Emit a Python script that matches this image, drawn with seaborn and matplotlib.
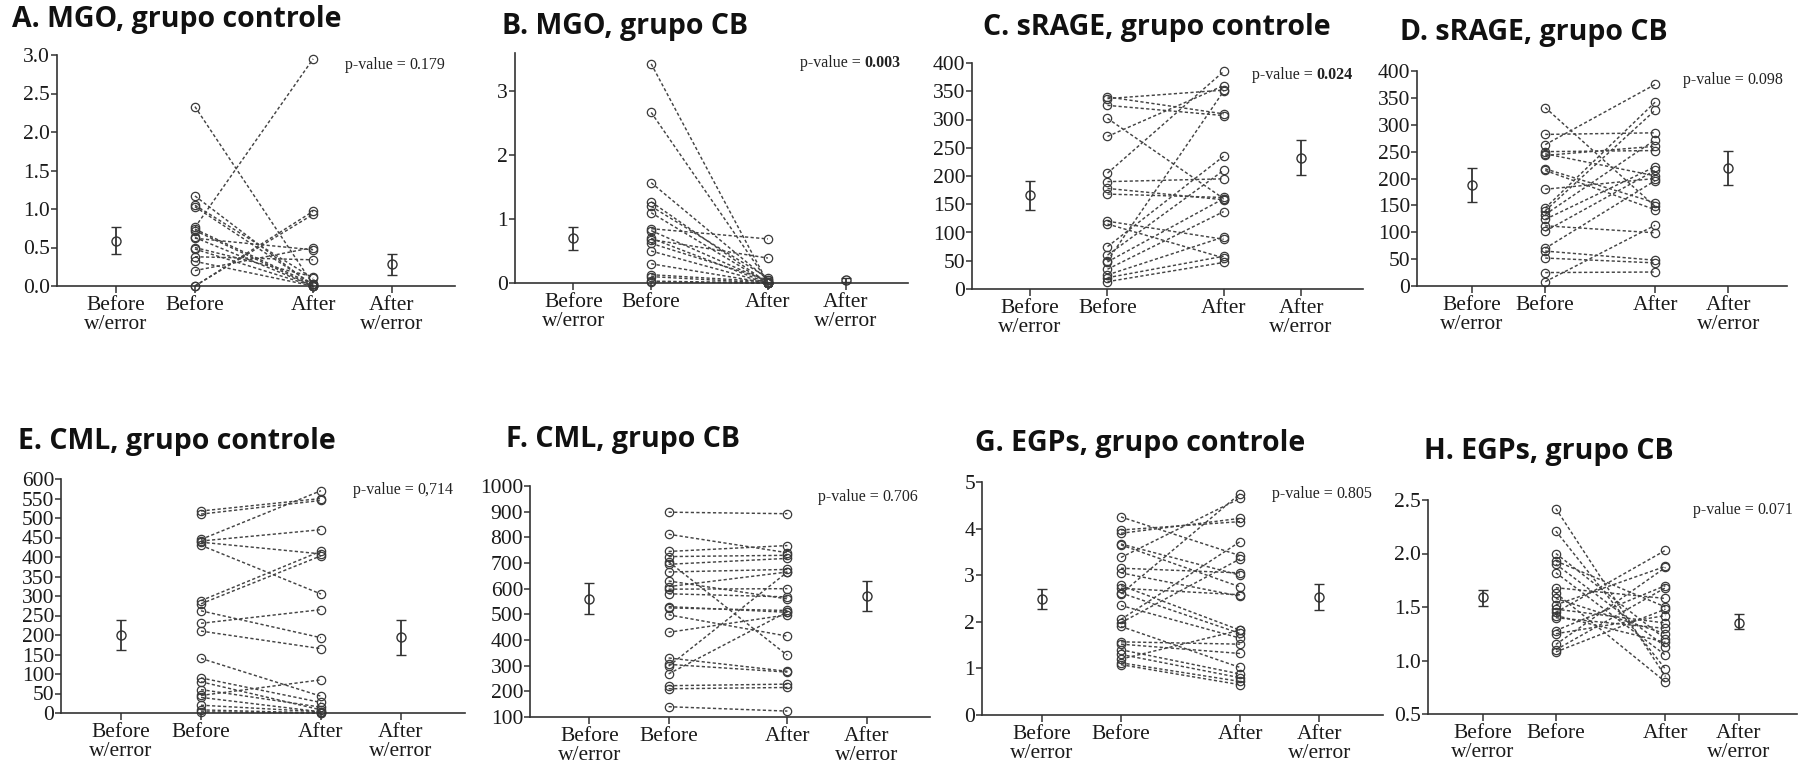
import matplotlib
matplotlib.use('Agg')
import matplotlib.pyplot as plt
from matplotlib.font_manager import FontProperties
import numpy as np
import pandas as pd
import seaborn as sns

categories = ['Before\nw/error', 'Before', 'After', 'After\nw/error']
cat_pos = [0, 1, 2.5, 3.5]

titles = ['A. MGO, grupo controle', 'B. MGO, grupo CB',
          'C. sRAGE, grupo controle', 'D. sRAGE, grupo CB',
          'E. CML, grupo controle', 'F. CML, grupo CB',
          'G. EGPs, grupo controle', 'H. EGPs, grupo CB']
p_values = ['0.179', '0.003', '0.024', '0.098', '0,714', '0.706', '0.805', '0.071']
p_bold = [False, True, True, False, False, False, False, False]

# paired subject values
before_A = [2.33, 1.17, 1.05, 1.03, 0.76, 0.74, 0.72, 0.63, 0.62, 0.50, 0.48, 0.38, 0.32, 0.20, 0.00, 0.00]
after_A = [0.02, 0.00, 0.10, 0.02, 2.95, 0.02, 0.00, 0.00, 0.47, 0.12, 0.00, 0.34, 0.00, 0.50, 0.97, 0.93]

before_B = [3.43, 2.67, 1.57, 1.27, 1.20, 1.10, 0.85, 0.82, 0.70, 0.68, 0.62, 0.50, 0.30, 0.13, 0.10, 0.03, 0.02]
after_B = [0.00, 0.02, 0.05, 0.00, 0.08, 0.00, 0.69, 0.02, 0.00, 0.39, 0.05, 0.00, 0.00, 0.02, 0.00, 0.00, 0.00]

before_C = [340, 337, 325, 302, 270, 205, 190, 178, 168, 120, 115, 75, 60, 50, 48, 35, 25, 20, 13]
after_C = [310, 352, 307, 160, 360, 385, 195, 158, 162, 88, 55, 235, 210, 350, 160, 137, 92, 58, 47]

before_D = [332, 282, 263, 250, 246, 243, 218, 215, 180, 145, 140, 133, 124, 112, 102, 70, 65, 52, 25, 8]
after_D = [148, 285, 375, 252, 205, 260, 155, 142, 200, 342, 327, 272, 222, 99, 215, 196, 48, 43, 26, 113]

before_E = [518, 510, 445, 441, 438, 430, 288, 280, 262, 230, 210, 140, 90, 80, 60, 45, 40, 20, 8, 3]
after_E = [550, 545, 570, 470, 408, 305, 415, 403, 193, 265, 165, 43, 27, 8, 15, 85, 3, 3, 0, 0]

before_F = [898, 812, 745, 725, 705, 695, 665, 630, 608, 598, 580, 530, 525, 498, 430, 330, 305, 298, 268, 222, 210, 140]
after_F = [892, 740, 768, 730, 340, 718, 675, 560, 665, 600, 568, 508, 515, 415, 498, 278, 275, 665, 510, 228, 215, 123]

before_G = [4.25, 3.97, 3.90, 3.67, 3.65, 3.38, 3.15, 3.05, 2.78, 2.72, 2.62, 2.60, 2.35, 2.05, 1.98, 1.90, 1.57, 1.52, 1.40, 1.30, 1.20, 1.12, 1.08]
after_G = [3.42, 4.15, 4.22, 3.00, 2.75, 4.65, 3.05, 2.55, 1.82, 2.58, 1.75, 4.75, 1.65, 3.72, 3.35, 1.02, 1.52, 1.32, 0.88, 0.80, 1.82, 0.72, 0.65]

before_H = [2.42, 2.21, 2.00, 1.93, 1.90, 1.82, 1.68, 1.63, 1.58, 1.52, 1.48, 1.45, 1.42, 1.40, 1.28, 1.25, 1.15, 1.10, 1.08]
after_H = [0.85, 0.92, 1.20, 1.50, 1.13, 1.05, 1.58, 0.80, 1.25, 1.88, 1.35, 2.03, 1.17, 1.30, 1.70, 1.42, 1.87, 1.68, 1.48]

# mean and error bar ends shown beside the paired points
mean_before = [0.59, 0.71, 166, 188, 201, 560, 2.50, 1.59]
low_before = [0.42, 0.51, 140, 157, 162, 500, 2.27, 1.51]
high_before = [0.77, 0.88, 191, 219, 239, 621, 2.70, 1.66]
mean_after = [0.28, 0.05, 232, 220, 195, 571, 2.54, 1.35]
low_after = [0.14, 0.01, 201, 188, 150, 513, 2.26, 1.29]
high_after = [0.41, 0.08, 263, 251, 239, 630, 2.82, 1.43]

paired = [(before_A, after_A), (before_B, after_B), (before_C, after_C), (before_D, after_D),
          (before_E, after_E), (before_F, after_F), (before_G, after_G), (before_H, after_H)]

# layout in pixels: axes box (left, top, right, bottom), title and p-value anchors
W, H = 1800, 769
boxes = [(57, 55, 455, 286), (515, 53, 908, 283), (972, 63, 1363, 289), (1417, 71, 1787, 286),
         (61, 479, 465, 713), (530, 486, 930, 717), (982, 482, 1383, 715), (1428, 500, 1797, 714)]
title_xy = [(12, 27), (502, 34), (983, 35), (1400, 40),
            (18, 449), (506, 447), (975, 451), (1424, 459)]
pval_xy = [(345, 65), (800, 63), (1252, 75), (1683, 80),
           (353, 490), (818, 497), (1272, 494), (1693, 510)]
ylims = [(0, 3.0), (0, 3.6), (0, 400), (0, 400), (0, 600), (100, 1000), (0, 5), (0.5, 2.5)]
yticks = [np.arange(0, 3.01, 0.5), [0, 1, 2, 3], np.arange(0, 401, 50), np.arange(0, 401, 50),
          np.arange(0, 601, 50), np.arange(100, 1001, 100), np.arange(0, 6, 1), np.arange(0.5, 2.51, 0.5)]
yfmt = ['{:.1f}', '{:.0f}', '{:.0f}', '{:.0f}', '{:.0f}', '{:.0f}', '{:.0f}', '{:.1f}']

sns.set_style('ticks')
plt.rcParams['font.family'] = 'serif'
plt.rcParams['font.serif'] = ['Liberation Serif', 'DejaVu Serif']
ink = '#333333'
tick_font = FontProperties(family='Liberation Serif', size=15.5)

fig = plt.figure(figsize=(W / 100, H / 100), dpi=100)

for i in range(8):
    l, t, r, b = boxes[i]
    ax = fig.add_axes([l / W, 1 - b / H, (r - l) / W, (b - t) / H])
    before, after = paired[i]
    n = len(before)
    df = pd.DataFrame({'subject': list(range(n)) * 2,
                       'pos': [cat_pos[1]] * n + [cat_pos[2]] * n,
                       'value': before + after})
    sns.lineplot(data=df, x='pos', y='value', units='subject', estimator=None,
                 color='#444444', linestyle=(0, (2.2, 1.6)), linewidth=1.05,
                 marker='o', markersize=6, markerfacecolor='none',
                 mec='#3a3a3a', mew=0.9, clip_on=False, legend=False, ax=ax)

    means = [mean_before[i], mean_after[i]]
    yerr = [[mean_before[i] - low_before[i], mean_after[i] - low_after[i]],
            [high_before[i] - mean_before[i], high_after[i] - mean_after[i]]]
    ax.errorbar([cat_pos[0], cat_pos[3]], means, yerr=yerr, fmt='o', color=ink,
                mfc='none', mec=ink, ms=6.5, mew=1.0, elinewidth=1.3, capsize=3.5,
                capthick=1.3, clip_on=False)

    ax.set_xlim(-0.75, 4.3)
    ax.set_ylim(*ylims[i])
    ax.set_xlabel('')
    ax.set_ylabel('')
    ax.tick_params(axis='y', length=4, width=1.1, color=ink, labelcolor='#1a1a1a', pad=1)
    ax.tick_params(axis='x', length=5, width=1.1, color=ink, labelcolor='#1a1a1a', pad=2)
    ax.set_xticks(cat_pos)
    ax.set_xticklabels(categories, linespacing=1.05)
    ax.set_yticks(yticks[i])
    ax.set_yticklabels([yfmt[i].format(v) for v in yticks[i]])
    for lab in ax.get_xticklabels() + ax.get_yticklabels():
        lab.set_fontproperties(tick_font)
    sns.despine(ax=ax)
    for side in ['left', 'bottom']:
        ax.spines[side].set_color(ink)
        ax.spines[side].set_linewidth(1.2)

    tx, ty = title_xy[i]
    fig.text(tx / W, 1 - ty / H, titles[i], fontsize=20.5, fontweight='bold',
             family=['Open Sans', 'DejaVu Sans'], color='#111111', va='baseline')

    px, py = pval_xy[i]
    lead = fig.text(px / W, 1 - py / H, 'p-value = ', fontsize=11.5, color='#222222',
                    va='center')
    ax.annotate(p_values[i], xy=(1, 0.5), xycoords=lead, va='center', ha='left',
                fontsize=11.5, color='#222222',
                fontweight='bold' if p_bold[i] else 'normal')

fig.savefig('out.png', dpi=100)
